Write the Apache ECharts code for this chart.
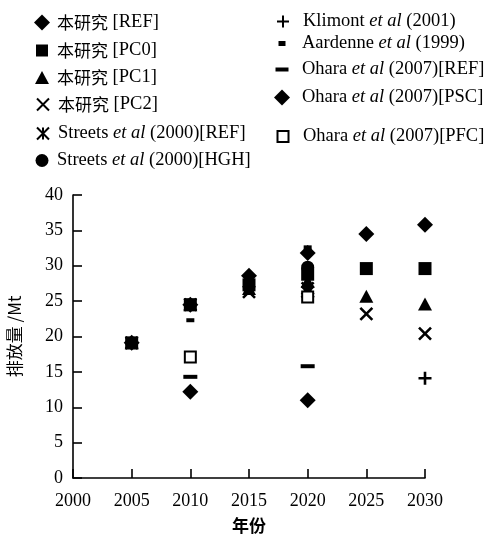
<!DOCTYPE html>
<html>
<head>
<meta charset="utf-8">
<script src="https://cdn.jsdelivr.net/npm/echarts@6/dist/echarts.min.js"></script>
<style>html,body{margin:0;padding:0;background:#fff;}#c{width:486px;height:534px;}</style>
</head>
<body>
<div id="c"></div>
<script>
// ---- data ----
const years = [2005, 2010, 2015, 2020, 2025, 2030];
const thisREF = [19.1, 24.5, 28.6, 31.8, 34.5, 35.8];
const thisPC0 = [19.1, 24.5, 27.3, 28.8, 29.6, 29.6];
const thisPC1 = [19.1, 24.5, 26.8, 27.8, 25.7, 24.6];
const thisPC2 = [19.1, 24.5, 26.3, 26.8, 23.2, 20.4];
const streetsREFYears = [2020];
const streetsREFVals = [26.3];
const streetsHGHYears = [2020];
const streetsHGHVals = [29.8];
const klimontYears = [2030];
const klimontVals = [14.1];
const aardenneYears = [2010, 2020];
const aardenneVals = [22.3, 32.6];
const oharaREFYears = [2010, 2020];
const oharaREFVals = [14.3, 15.8];
const oharaPSCYears = [2010, 2020];
const oharaPSCVals = [12.2, 11.0];
const oharaPFCYears = [2010, 2020];
const oharaPFCVals = [17.1, 25.6];
const xTicks = [2000, 2005, 2010, 2015, 2020, 2025, 2030];
const yTicks = [0, 5, 10, 15, 20, 25, 30, 35, 40];

const pair = (xs, ys) => xs.map((x, i) => [x, ys[i]]);

const X_PATH = 'path://M0,0L10,10M10,0L0,10';
const AST_PATH = 'path://M0,0L10,10M10,0L0,10M5,0L5,10';
const PLUS_PATH = 'path://M5,0L5,10M0,5L10,5';

const seriesDefs = [
  {name: '本研究 [REF]', data: pair(years, thisREF), symbol: 'diamond', size: [16, 16], leg: [16, 16], col: 0, top: 13},
  {name: '本研究 [PC0]', data: pair(years, thisPC0), symbol: 'rect', size: [13, 13], leg: [12, 12], col: 0, top: 41},
  {name: '本研究 [PC1]', data: pair(years, thisPC1), symbol: 'triangle', size: [14, 13], leg: [14, 13], col: 0, top: 68},
  {name: '本研究 [PC2]', data: pair(years, thisPC2), symbol: X_PATH, size: [12, 12], leg: [12, 12], stroke: 2.6, col: 0, top: 95},
  {name: 'Streets et al (2000)[REF]', data: pair(streetsREFYears, streetsREFVals), symbol: AST_PATH, size: [12, 12], leg: [12, 12], stroke: 3, col: 0, top: 124},
  {name: 'Streets et al (2000)[HGH]', data: pair(streetsHGHYears, streetsHGHVals), symbol: 'circle', size: [13, 13], leg: [13, 13], col: 0, top: 151},
  {name: 'Klimont et al (2001)', data: pair(klimontYears, klimontVals), symbol: PLUS_PATH, size: [13, 13], leg: [12, 12], stroke: 2.6, col: 1, top: 12},
  {name: 'Aardenne et al (1999)', data: pair(aardenneYears, aardenneVals), symbol: 'rect', size: [8, 4], leg: [7, 5], col: 1, top: 34},
  {name: 'Ohara et al (2007)[REF]', data: pair(oharaREFYears, oharaREFVals), symbol: 'rect', size: [14, 4], leg: [13, 4], col: 1, top: 60},
  {name: 'Ohara et al (2007)[PSC]', data: pair(oharaPSCYears, oharaPSCVals), symbol: 'diamond', size: [16, 16], leg: [16, 16], col: 1, top: 88},
  {name: 'Ohara et al (2007)[PFC]', data: pair(oharaPFCYears, oharaPFCVals), symbol: 'rect', size: [11, 11], leg: [11, 11], hollow: true, col: 1, top: 127}
];

function richLabel(name, k) {
  const sp = '{s' + k + '| }';
  if (name.indexOf('本研究') === 0) {
    return sp + '{c|本研究}{n|' + name.slice(3) + '}';
  }
  const parts = name.split('et al');
  return sp + '{n|' + parts[0] + '}{i|et al}{n|' + parts[1] + '}';
}

const baseRich = {
  n: {fontFamily: 'Liberation Serif', fontSize: 18.5, color: '#000'},
  i: {fontFamily: 'Liberation Serif', fontSize: 18.5, fontStyle: 'italic', color: '#000'},
  c: {fontFamily: 'Noto Sans CJK SC', fontSize: 17, color: '#000'}
};

const series = seriesDefs.map(d => ({
  name: d.name,
  type: 'scatter',
  data: d.data,
  symbol: d.symbol,
  symbolSize: d.size,
  itemStyle: d.hollow ? {color: '#fff', borderColor: '#000', borderWidth: 2, opacity: 1}
    : d.stroke ? {color: '#000', borderColor: '#000', borderWidth: d.stroke, opacity: 1}
    : {color: '#000', opacity: 1},
  emphasis: {disabled: true}
}));

const legends = seriesDefs.map((d, k) => {
  const w = d.leg[0], h = d.leg[1];
  const left = (d.col === 0 ? 42 : 282) - w / 2;
  const textStart = d.col === 0 ? 57 : 302;
  const spW = Math.max(textStart - (left + w + 5), 0);
  const rich = Object.assign({}, baseRich);
  rich['s' + k] = {width: spW, fontSize: 16, fontFamily: 'Liberation Serif'};
  return {
    data: [d.name],
    left: left,
    top: d.top,
    padding: 0,
    orient: 'vertical',
    itemWidth: w,
    itemHeight: h,
    selectedMode: false,
    formatter: n => richLabel(n, k),
    textStyle: {rich: rich, color: '#000'}
  };
});

const axisFont = {fontFamily: 'Liberation Serif', fontSize: 18, color: '#000'};

const option = {
  backgroundColor: '#fff',
  animation: false,
  legend: legends,
  grid: {left: 73, top: 195, width: 352, height: 283, containLabel: false, outerBoundsMode: 'none'},
  xAxis: {
    type: 'value', min: xTicks[0], max: xTicks[xTicks.length - 1], interval: 5,
    name: '年份', nameLocation: 'middle', nameGap: 39,
    nameTextStyle: {fontFamily: 'Noto Sans CJK SC', fontSize: 17, fontWeight: 'bold', color: '#000'},
    axisLine: {lineStyle: {color: '#000', width: 1.6}},
    axisTick: {inside: true, length: 9, lineStyle: {color: '#000', width: 1.6}},
    axisLabel: Object.assign({margin: 14, formatter: v => String(v)}, axisFont),
    splitLine: {show: false}
  },
  yAxis: {
    type: 'value', min: yTicks[0], max: yTicks[yTicks.length - 1], interval: 5,
    name: '排放量 /Mt', nameLocation: 'middle', nameGap: 50,
    nameTextStyle: {fontFamily: 'Noto Sans CJK SC', fontSize: 17, color: '#000'},
    axisLine: {show: true, lineStyle: {color: '#000', width: 1.6}},
    axisTick: {show: true, inside: true, length: 9, lineStyle: {color: '#000', width: 1.6}},
    axisLabel: Object.assign({margin: 10}, axisFont),
    splitLine: {show: false}
  },
  series: series
};

const chart = echarts.init(document.getElementById('c'), null, {renderer: 'canvas'});
chart.setOption(option);
</script>
</body>
</html>
